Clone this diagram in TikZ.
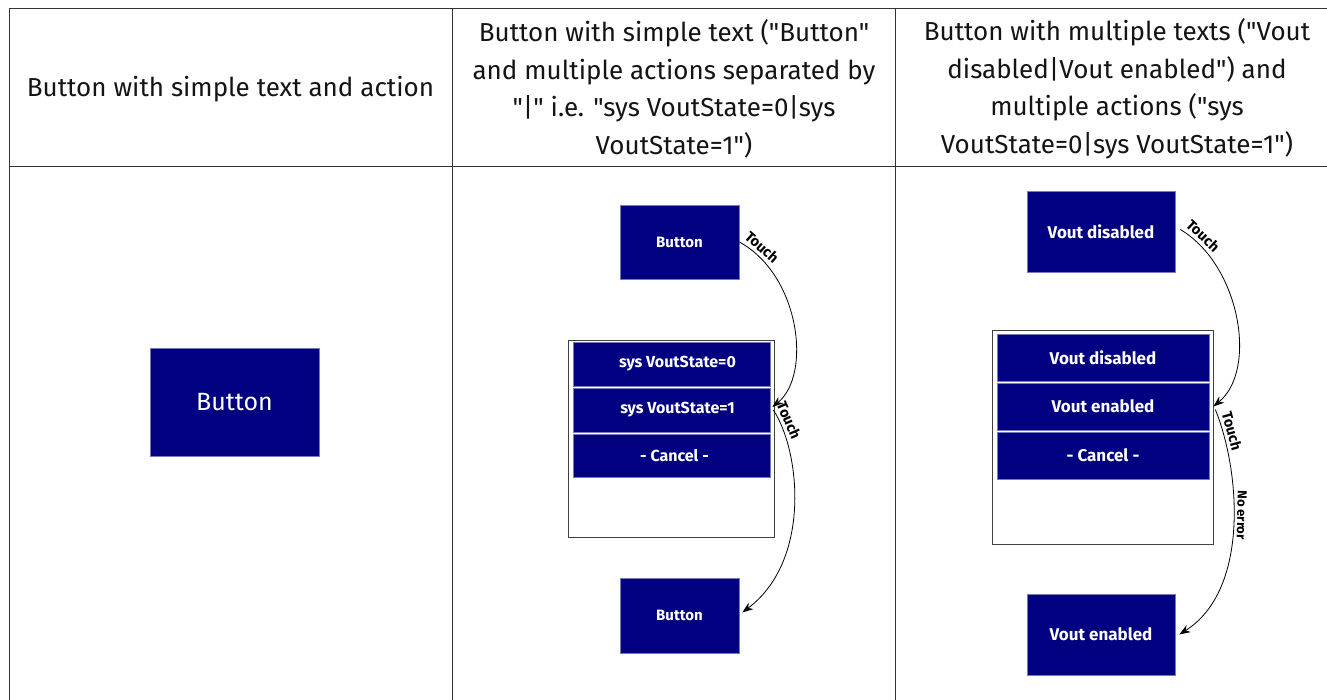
\documentclass[tikz,border=0pt]{standalone}
\usepackage{fontspec}
\setmainfont{Fira Sans}[Ligatures=TeXOff]
\usetikzlibrary{arrows.meta}

\definecolor{btnblue}{HTML}{000080}
\definecolor{btnedge}{HTML}{7878BC}

\begin{document}
\begin{tikzpicture}[x=1pt,y=1pt,
  rule/.style={draw=black!80, line width=1pt},
  head/.style={align=center, text=black!92, font=\fontsize{26}{37.5}\selectfont},
  btn/.style={rectangle, fill=btnblue, draw=btnedge, line width=0.6pt, text=white,
              inner sep=0pt, font=\bfseries\fontsize{15}{18}\selectfont},
  itembtn/.style={btn, font=\bfseries\fontsize{16}{19}\selectfont},
  bigbtn/.style={btn, font=\bfseries\fontsize{17}{20}\selectfont},
  plainbtn/.style={btn, font=\fontsize{25}{28}\selectfont},
  menuframe/.style={rectangle, draw=black!75, fill=white, line width=0.9pt, inner sep=0pt},
  link/.style={draw=black, line width=0.8pt, -{Stealth[length=11pt,width=8pt]}},
  tag/.style={sloped, above, inner sep=3pt, font=\bfseries\fontsize{14.5}{17}\selectfont},
  smalltag/.style={sloped, allow upside down, above, inner sep=3pt, font=\bfseries\fontsize{13}{15}\selectfont}
]
\useasboundingbox (0,0) rectangle (1327,-700);
\fill[white] (0,0) rectangle (1327,-700);

% table grid
\draw[rule] (9,-9) -- (1340,-9);
\draw[rule] (9,-167) -- (1340,-167);
\draw[rule] (9,-9) -- (9,-705);
\draw[rule] (452,-9) -- (452,-705);
\draw[rule] (895,-9) -- (895,-705);

% column headers
\node[head] (h1) at (230.5,-89) {Button with simple text and action};
\node[head] (h2) at (674,-89) {Button with simple text ("Button"\\and multiple actions separated by\\"|" i.e. "sys VoutState=0|sys\\VoutState=1")};
\node[head] (h3) at (1117,-89) {Button with multiple texts ("Vout\\disabled|Vout enabled") and\\multiple actions ("sys\\VoutState=0|sys VoutState=1")};

% column 1: single button
\node[plainbtn, minimum width=169, minimum height=108] (b1) at (234.5,-402) {Button};

% column 2: button, action menu, button
\node[btn, minimum width=119, minimum height=74] (b2top) at (679.5,-242) {Button};
\node[menuframe, minimum width=206, minimum height=197] (m2) at (671,-438.5) {};
\node[itembtn, minimum width=197, minimum height=44] (m2a) at (671.5,-364) {\hspace*{12pt}sys VoutState=0};
\node[itembtn, minimum width=197, minimum height=44] (m2b) at (671.5,-410) {\hspace*{12pt}sys VoutState=1};
\node[itembtn, minimum width=197, minimum height=43] (m2c) at (671.5,-455.5) {\hspace*{6pt}- Cancel -};
\node[btn, minimum width=119, minimum height=75] (b2bot) at (679.5,-615.5) {Button};

\draw[link] (b2top.east) .. controls (800,-275) and (812,-375) .. ([xshift=2pt,yshift=3pt]m2b.east)
  node[tag, pos=0.1] {Touch};
\draw[link] ([xshift=3pt]m2b.east) .. controls (800,-450) and (812,-560) .. ([xshift=3pt,yshift=3pt]b2bot.east)
  node[tag, pos=0.1] {Touch};

% column 3: text button, text menu, text button
\node[bigbtn, minimum width=148, minimum height=81] (b3top) at (1101,-231.5) {Vout disabled};
\node[menuframe, minimum width=221, minimum height=214] (m3) at (1102.5,-437) {};
\node[bigbtn, minimum width=212, minimum height=47] (m3a) at (1103,-357.5) {Vout disabled};
\node[bigbtn, minimum width=212, minimum height=47] (m3b) at (1103,-406.5) {Vout enabled};
\node[bigbtn, minimum width=212, minimum height=47] (m3c) at (1103,-455.5) {- Cancel -};
\node[bigbtn, minimum width=148, minimum height=81] (b3bot) at (1101,-634.5) {Vout enabled};

\draw[link] ([xshift=5pt,yshift=2pt]b3top.east) .. controls (1240,-265) and (1258,-370) .. ([xshift=4pt]m3b.east)
  node[tag, pos=0.1] {Touch};
\draw[link] ([xshift=6pt,yshift=-3pt]m3b.east) .. controls (1240,-470) and (1250,-590) .. ([xshift=4pt]b3bot.east)
  node[tag, pos=0.12] {Touch}
  node[smalltag, pos=0.45] {No error};
\end{tikzpicture}
\end{document}
